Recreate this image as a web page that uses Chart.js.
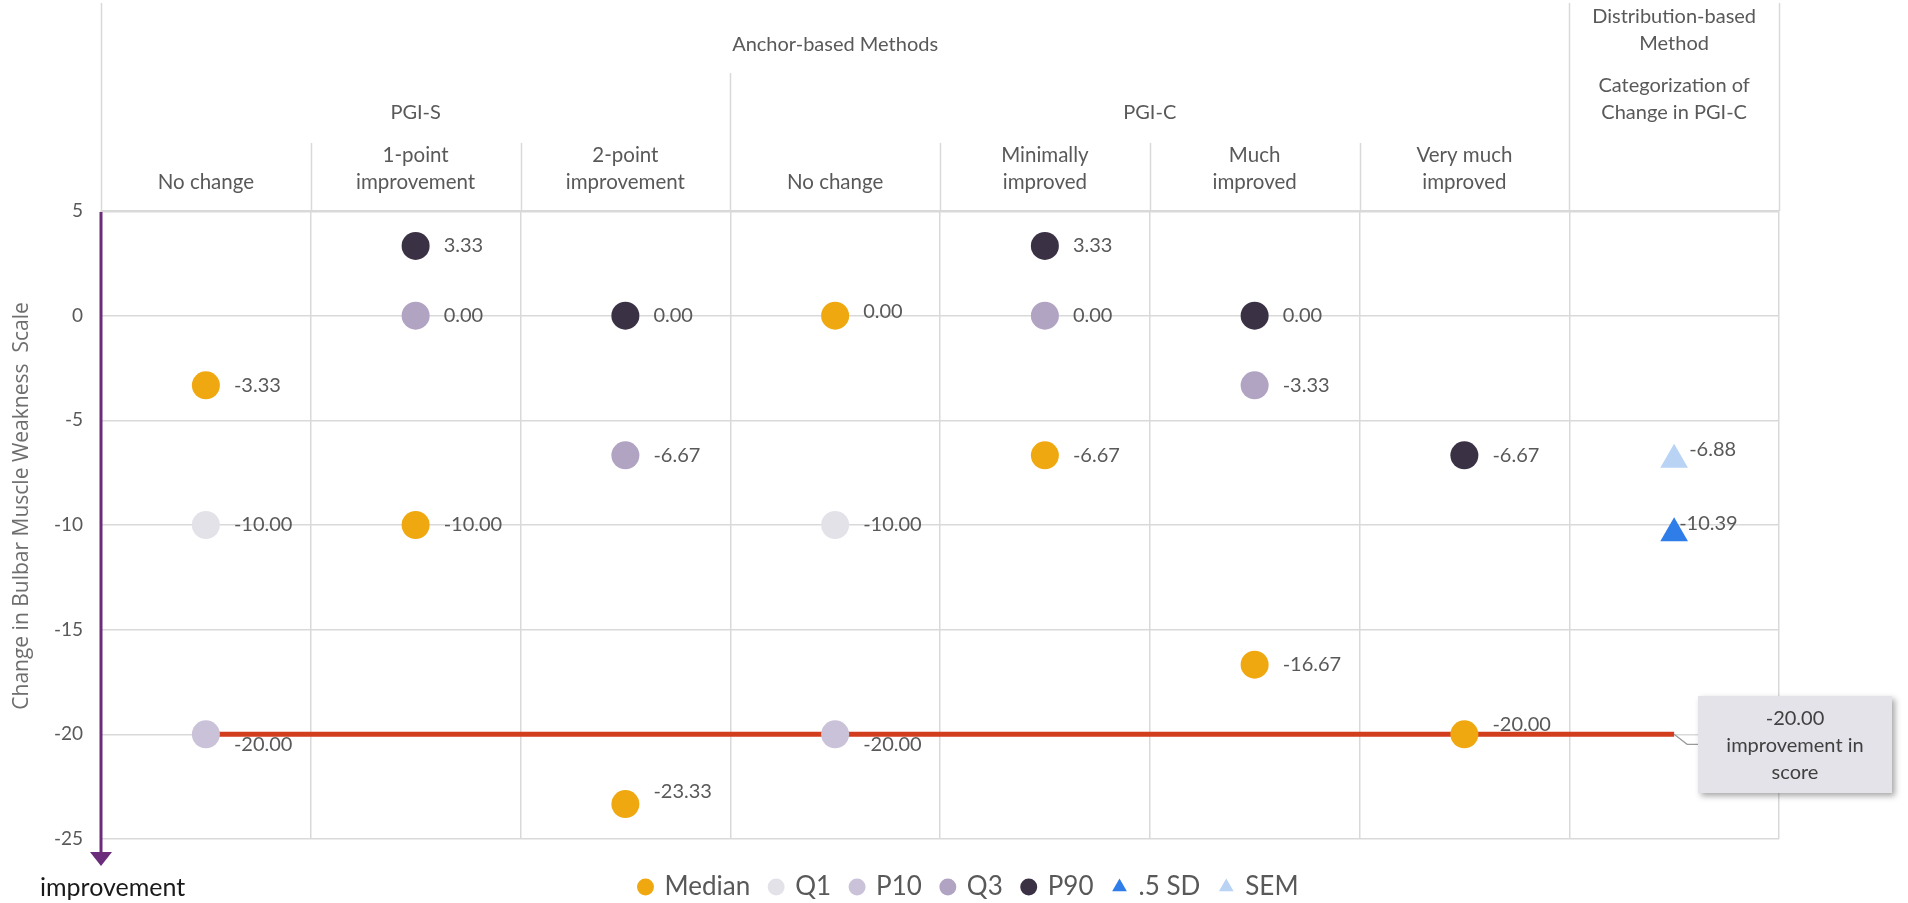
<!DOCTYPE html>
<html lang="en">
<head>
<meta charset="UTF-8" />
<title>Change in Bulbar Muscle Weakness Scale</title>
<style>
  html, body { margin: 0; padding: 0; background: #ffffff; }
  #wrap { position: relative; width: 1908px; height: 903px; }
</style>
</head>
<body>
<div id="wrap"><canvas id="chart"></canvas></div>
<script src="https://cdn.jsdelivr.net/npm/chart.js@4"></script>
<script>
// ---- data ----
const categories = [
  ['No change'], ['1-point', 'improvement'], ['2-point', 'improvement'],
  ['No change'], ['Minimally', 'improved'], ['Much', 'improved'],
  ['Very much', 'improved'], []
];
const median = [-3.33, -10.00, -23.33, 0.00, -6.67, -16.67, -20.00, null];
const q1     = [-10.00, null, null, -10.00, null, null, null, null];
const p10    = [-20.00, null, null, -20.00, null, null, null, null];
const q3     = [null, 0.00, -6.67, null, 0.00, -3.33, null, null];
const p90    = [null, 3.33, 0.00, null, 3.33, 0.00, -6.67, null];
const halfSD = [null, null, null, null, null, null, null, -10.39];
const sem    = [null, null, null, null, null, null, null, -6.88];
const threshold = -20.00;
const thresholdFrom = 0, thresholdTo = 7;
const calloutText = ['-20.00', 'improvement in', 'score'];
const yMin = -25, yMax = 5, yStep = 5;

const FONT = 'Lato, "Noto Sans", sans-serif';
const GRID = '#d9d9d9';
const TEXT = '#595959';

function toPoints(arr) {
  return arr.map((v, i) => v === null ? null : { x: i + 0.5, y: v }).filter(p => p);
}

// label nudges for a few points (dataset key : column) -> [dx, dy]
const labelNudge = {
  'p10:0': [0, 10], 'p10:3': [0, 10],
  'median:2': [0, -12], 'median:3': [0, -4], 'median:6': [0, -10],
  'sem:7': [-13, -10], 'halfSD:7': [-23, -10]
};

const series = [
  { key: 'median', label: 'Median', data: median, color: '#f0a810', style: 'circle' },
  { key: 'q1', label: 'Q1', data: q1, color: '#e4e2e9', style: 'circle' },
  { key: 'p10', label: 'P10', data: p10, color: '#cac2d8', style: 'circle' },
  { key: 'q3', label: 'Q3', data: q3, color: '#b1a3c2', style: 'circle' },
  { key: 'p90', label: 'P90', data: p90, color: '#3b3145', style: 'circle' },
  { key: 'halfSD', label: '.5 SD', data: halfSD, color: '#2f7de8', style: 'triangle' },
  { key: 'sem', label: 'SEM', data: sem, color: '#b9d3f5', style: 'triangle' }
];

const datasets = series.map(s => ({
  key: s.key,
  label: s.label,
  data: toPoints(s.data),
  backgroundColor: s.color,
  borderColor: s.color,
  borderWidth: 0,
  pointStyle: s.style,
  pointRadius: s.style === 'triangle' ? 16 : 14,
  pointHoverRadius: s.style === 'triangle' ? 16 : 14,
  showLine: false
}));

datasets.push({
  key: 'threshold',
  label: 'threshold',
  data: [{ x: thresholdFrom + 0.5, y: threshold }, { x: thresholdTo + 0.5, y: threshold }],
  showLine: true,
  borderColor: '#d23d1e',
  borderWidth: 5,
  pointRadius: 0,
  order: 10
});

// ---- header (group titles + category names) ----
const headerPlugin = {
  id: 'header',
  afterLayout(chart) {
    // legend sits centred under the series block, a bit lower than default
    const lg = chart.legend;
    if (!lg) return;
    const w = lg.right - lg.left;
    lg.left = 969 - w / 2;
    lg.right = lg.left + w;
    lg.top += 7;
    lg.bottom += 7;
  },
  afterDraw(chart) {
    const { ctx, chartArea: area, scales: { x } } = chart;
    ctx.save();
    ctx.strokeStyle = GRID;
    ctx.lineWidth = 1.5;
    const tops = [3, 143, 143, 73, 143, 143, 143, 3, 3];
    tops.forEach((t, i) => {
      const px = Math.round(x.getPixelForValue(i)) + 0.5;
      ctx.beginPath();
      ctx.moveTo(px, t);
      ctx.lineTo(px, area.top);
      ctx.stroke();
    });

    ctx.fillStyle = TEXT;
    ctx.font = '20px ' + FONT;
    ctx.textAlign = 'center';
    ctx.textBaseline = 'middle';
    const mid = (a, b) => (x.getPixelForValue(a) + x.getPixelForValue(b)) / 2;
    const groups = [
      { lines: ['Anchor-based Methods'], a: 0, b: 7, y: [45] },
      { lines: ['Distribution-based', 'Method'], a: 7, b: 8, y: [17, 44] },
      { lines: ['PGI-S'], a: 0, b: 3, y: [113] },
      { lines: ['PGI-C'], a: 3, b: 7, y: [113] },
      { lines: ['Categorization of', 'Change in PGI-C'], a: 7, b: 8, y: [86, 113] }
    ];
    groups.forEach(g => g.lines.forEach((l, j) => ctx.fillText(l, mid(g.a, g.b), g.y[j])));

    ctx.font = '20.5px ' + FONT;
    categories.forEach((lines, i) => {
      const cx = x.getPixelForValue(i + 0.5);
      lines.forEach((l, j) => {
        const yy = 182 - (lines.length - 1 - j) * 27;
        ctx.fillText(l, cx, yy);
      });
    });

    // y axis title
    ctx.save();
    ctx.translate(28, 506);
    ctx.rotate(-Math.PI / 2);
    ctx.font = '21px "Open Sans", sans-serif';
    ctx.fillStyle = '#6e6e6e';
    ctx.textAlign = 'center';
    ctx.textBaseline = 'alphabetic';
    ctx.fillText('Change in Bulbar Muscle Weakness  Scale', 0, 0);
    ctx.restore();

    // improvement arrow along the y axis
    const ax = x.getPixelForValue(0);
    ctx.strokeStyle = '#6b2d7b';
    ctx.fillStyle = '#6b2d7b';
    ctx.lineWidth = 3;
    ctx.beginPath();
    ctx.moveTo(ax, area.top + 1);
    ctx.lineTo(ax, 853);
    ctx.stroke();
    ctx.beginPath();
    ctx.moveTo(ax - 11, 852);
    ctx.lineTo(ax + 11, 852);
    ctx.lineTo(ax, 866);
    ctx.closePath();
    ctx.fill();

    ctx.fillStyle = '#1a1a1a';
    ctx.font = '25px ' + FONT;
    ctx.textAlign = 'left';
    ctx.fillText('improvement', 40, 888);
    ctx.restore();
  }
};

// ---- value labels + callout ----
const labelPlugin = {
  id: 'valueLabels',
  afterDatasetsDraw(chart) {
    const { ctx, scales: { x, y } } = chart;
    ctx.save();
    ctx.font = '20px ' + FONT;
    ctx.fillStyle = TEXT;
    ctx.textAlign = 'left';
    ctx.textBaseline = 'middle';
    chart.data.datasets.forEach((ds, di) => {
      if (ds.key === 'threshold') return;
      const meta = chart.getDatasetMeta(di);
      meta.data.forEach((el, k) => {
        const pt = ds.data[k];
        const col = Math.floor(pt.x);
        const n = labelNudge[ds.key + ':' + col] || [0, 0];
        ctx.fillText(pt.y.toFixed(2), el.x + 28 + n[0], el.y + n[1]);
      });
    });

    // callout box for the threshold line
    const ex = x.getPixelForValue(thresholdTo + 0.5);
    const ey = y.getPixelForValue(threshold);
    const bx = 1698, by = 696, bw = 194, bh = 97;
    ctx.strokeStyle = '#9a9a9a';
    ctx.lineWidth = 1.2;
    ctx.beginPath();
    ctx.moveTo(ex, ey);
    ctx.lineTo(ex + 13, ey + 10);
    ctx.lineTo(bx, ey + 10);
    ctx.stroke();
    ctx.shadowColor = 'rgba(0,0,0,0.35)';
    ctx.shadowBlur = 6;
    ctx.shadowOffsetX = 3;
    ctx.shadowOffsetY = 3;
    ctx.fillStyle = '#e4e3e9';
    ctx.fillRect(bx, by, bw, bh);
    ctx.shadowColor = 'transparent';
    ctx.fillStyle = '#404040';
    ctx.textAlign = 'center';
    calloutText.forEach((t, i) => ctx.fillText(t, bx + bw / 2, 719 + i * 27));
    ctx.restore();
  }
};

let xAxisHeight = 0;

const chart = new Chart(document.getElementById('chart'), {
  type: 'scatter',
  data: { datasets },
  plugins: [headerPlugin, labelPlugin],
  options: {
    responsive: true,
    maintainAspectRatio: false,
    animation: false,
    events: [],
    layout: { padding: { top: 211, right: 129, left: 0, bottom: 0 } },
    plugins: {
      tooltip: { enabled: false },
      legend: {
        position: 'bottom',
        labels: {
          filter: item => item.text !== 'threshold',
          usePointStyle: true,
          boxHeight: 12,
          boxWidth: 12,
          padding: 20,
          color: TEXT,
          font: { family: FONT, size: 26 }
        }
      }
    },
    scales: {
      x: {
        type: 'linear',
        min: 0,
        max: categories.length,
        ticks: { display: false, stepSize: 1 },
        grid: { color: GRID, lineWidth: 1.5, drawTicks: false },
        border: { display: false },
        afterFit: s => { s.height = xAxisHeight; }
      },
      y: {
        min: yMin,
        max: yMax,
        ticks: {
          stepSize: yStep,
          padding: 18,
          color: TEXT,
          font: { family: FONT, size: 19 }
        },
        grid: {
          color: GRID,
          lineWidth: c => c.tick && c.tick.value === yMax ? 2.5 : 1.5,
          drawTicks: false
        },
        border: { display: false },
        afterFit: s => { s.width = 101; }
      }
    }
  }
});

// keep the plot bottom where the reference has it
const diff = chart.chartArea.bottom - 839;
if (Math.abs(diff) > 0.5) {
  xAxisHeight = Math.max(0, xAxisHeight + diff);
  chart.update('none');
}
</script>
</body>
</html>
